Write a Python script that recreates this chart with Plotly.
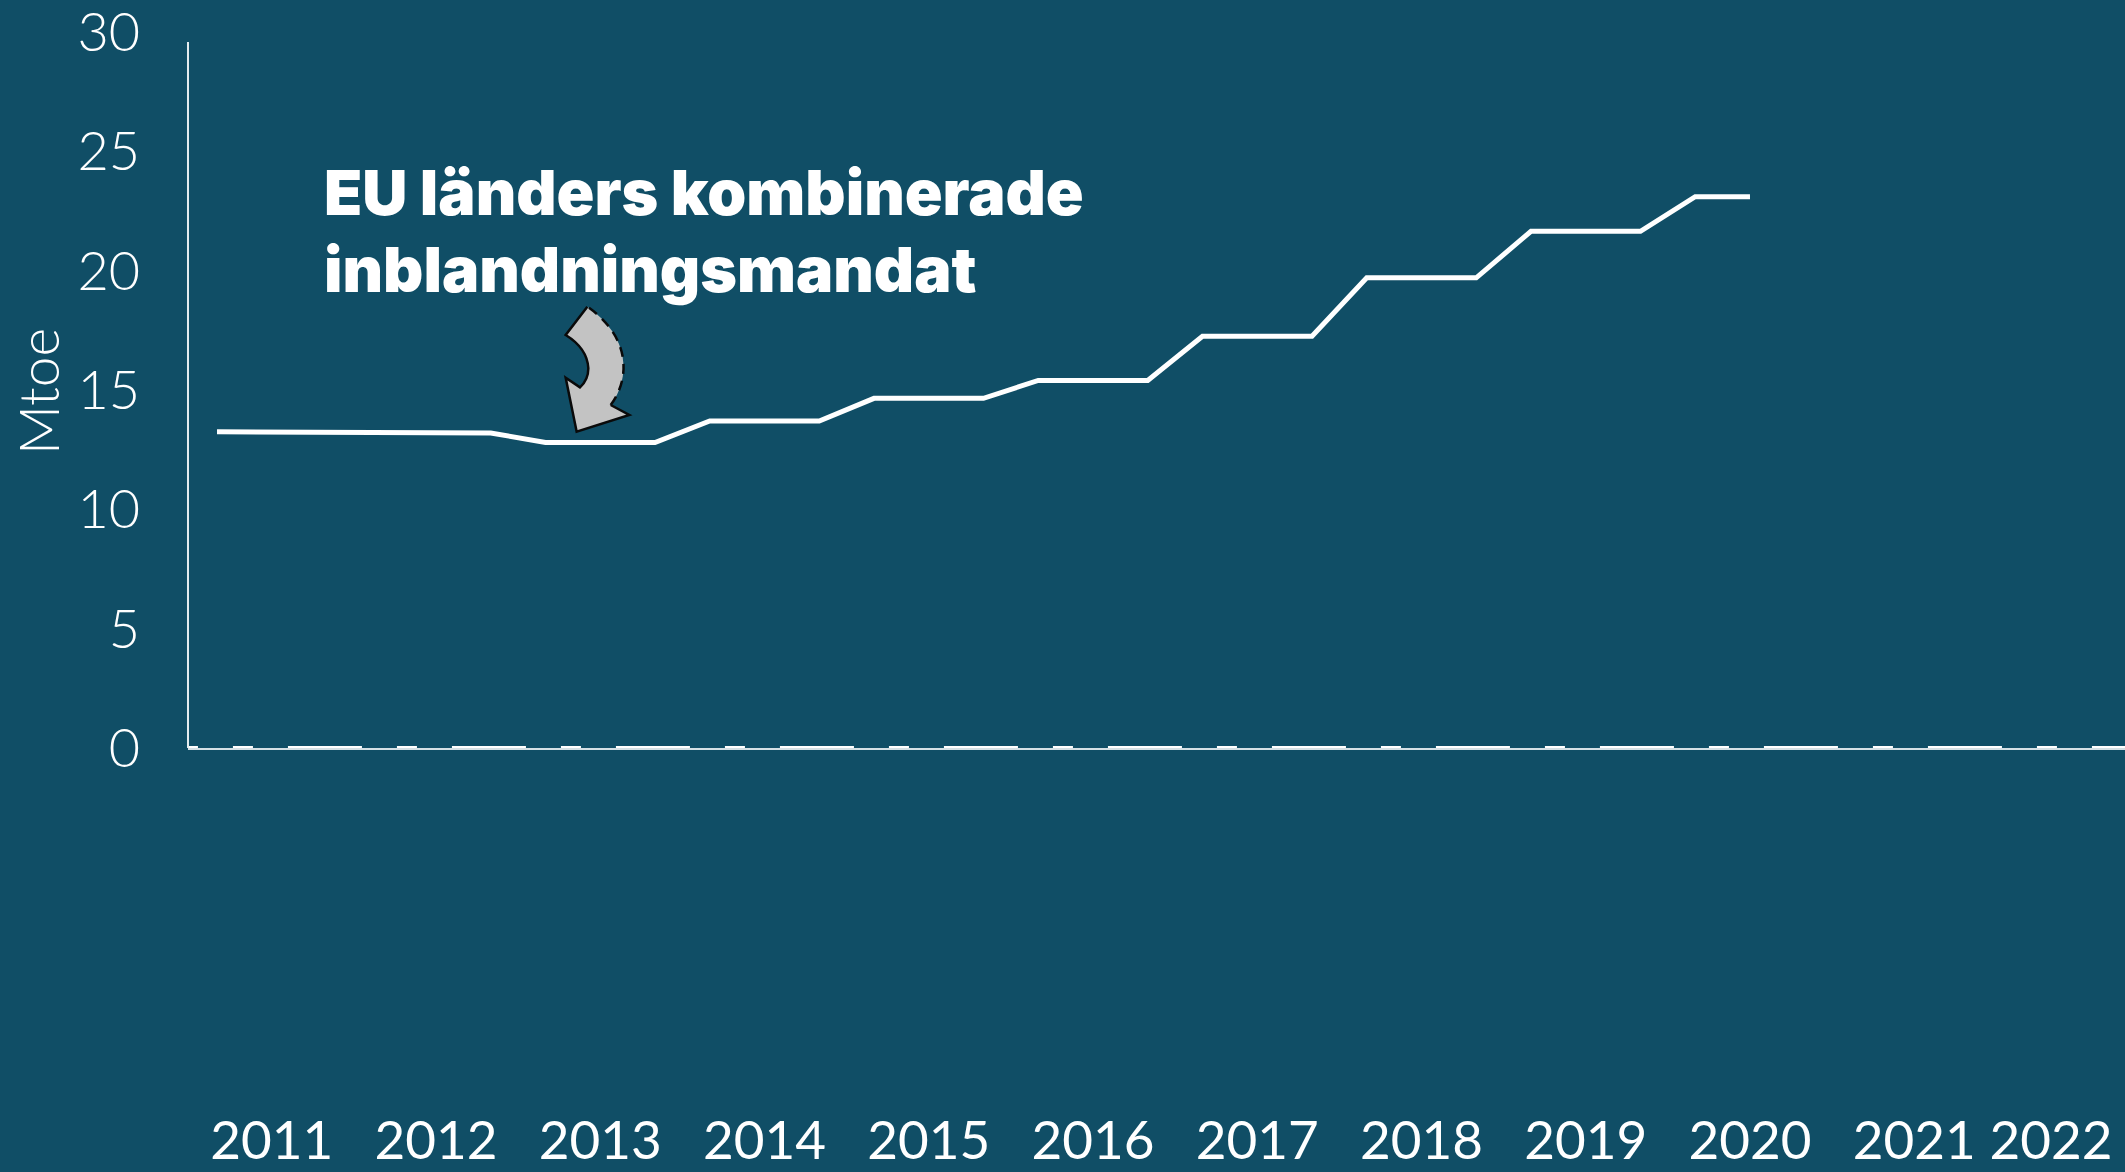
import plotly.graph_objects as go

W, H = 2125, 1172
L, B, T = 188, 424, 32
BG = "#104E66"

# Data
point_index = list(range(29))
mandate_mtoe = [13.25, 13.25, 13.25, 13.2, 13.2, 13.2, 12.8, 12.8, 12.8, 13.7, 13.7, 13.7,
                14.65, 14.65, 14.65, 15.4, 15.4, 15.4, 17.25, 17.25, 17.25, 19.7, 19.7, 19.7,
                21.65, 21.65, 21.65, 23.1, 23.1]
zero_index = [-1.7, 35]
zero_values = [0, 0]
year_labels = ["2011", "2012", "2013", "2014", "2015", "2016", "2017", "2018", "2019", "2020", "2021", "2022"]
year_ticks = [1, 4, 7, 10, 13, 16, 19, 22, 25, 28, 31, 33.5]
y_ticks = [0, 5, 10, 15, 20, 25, 30]
note_lines = ["EU länders kombinerade", "inblandningsmandat"]


def pt(x, y):
    return f"{(500 + x / 3 - L) / (W - L):.5f},{1 - (280 + y / 3 - T) / (H - T - B):.5f}"


def fx(x):
    return (x - L) / (W - L)


def fy(y):
    return 1 - (y - T) / (H - T - B)


inner_path = (f"M{pt(262, 80)} L{pt(197, 165)} Q{pt(262, 205)} {pt(265, 265)} Q{pt(265, 300)} {pt(240, 322)} "
              f"L{pt(197, 293)} L{pt(230, 455)} L{pt(388, 405)} L{pt(332, 375)}")
outer_path = f"M{pt(332, 375)} C{pt(392, 295)} {pt(392, 170)} {pt(262, 80)}"
fill_path = inner_path + f" C{pt(392, 295)} {pt(392, 170)} {pt(262, 80)} Z"

fig = go.Figure()
fig.add_trace(go.Scatter(x=zero_index, y=zero_values, mode="lines",
                         line=dict(color="white", width=4, dash="74px,35px,20px,35px"),
                         hoverinfo="skip", showlegend=False))
fig.add_trace(go.Scatter(x=point_index, y=mandate_mtoe, mode="lines",
                         line=dict(color="white", width=5), showlegend=False))

shapes = [
    dict(type="line", xref="paper", yref="y", x0=0, x1=0, y0=0, y1=29.58,
         line=dict(color="#E4ECEF", width=2)),
    dict(type="path", xref="paper", yref="paper", path=fill_path,
         fillcolor="#C3C3C3", line=dict(width=0), layer="above"),
    dict(type="path", xref="paper", yref="paper", path=inner_path,
         line=dict(color="#0A0A0A", width=2.5), layer="above"),
    dict(type="path", xref="paper", yref="paper", path=outer_path,
         line=dict(color="#0A0A0A", width=2.5, dash="10px,7px"), layer="above"),
]

note_tops = [152, 229]
annotations = [
    dict(text=line, xref="paper", yref="paper", x=fx(322), y=fy(top), xanchor="left", yanchor="top",
         align="left", showarrow=False,
         font=dict(family="Inter", size=62.5, color="white", weight=900))
    for line, top in zip(note_lines, note_tops)
]
annotations.append(
    dict(text="Mtoe", xref="paper", yref="paper", x=fx(38), y=fy(392), xanchor="center", yanchor="middle",
         textangle=-90, showarrow=False, font=dict(family="Lato", size=55, color="white", weight=300))
)

fig.update_layout(
    width=W, height=H, autosize=False,
    margin=dict(l=L, r=0, t=T, b=B, pad=0, autoexpand=False),
    paper_bgcolor=BG, plot_bgcolor=BG,
    showlegend=False, shapes=shapes,
    xaxis=dict(range=[-0.53, 34.85], tickmode="array", tickvals=year_ticks, ticktext=year_labels,
               showgrid=False, zeroline=False, showline=True, linecolor="#D5E0E5", linewidth=2,
               ticks="outside", ticklen=345, tickcolor="rgba(0,0,0,0)", automargin=False,
               ticklabeloverflow="allow",
               tickangle=0, tickfont=dict(family="Lato", size=53, color="white")),
    yaxis=dict(range=[0, 30], tickmode="array", tickvals=y_ticks, showgrid=False, zeroline=False,
               showline=False, ticks="outside", ticklen=36, tickcolor="rgba(0,0,0,0)", automargin=False,
               ticklabeloverflow="allow",
               tickfont=dict(family="Lato", size=54, color="white", weight=300)),
    annotations=annotations,
)

fig.write_html(
    "out.html",
    config=dict(displayModeBar=False),
    post_script="document.documentElement.style.background='#104E66';"
                "document.body.style.margin='0';document.body.style.overflow='hidden';",
)
